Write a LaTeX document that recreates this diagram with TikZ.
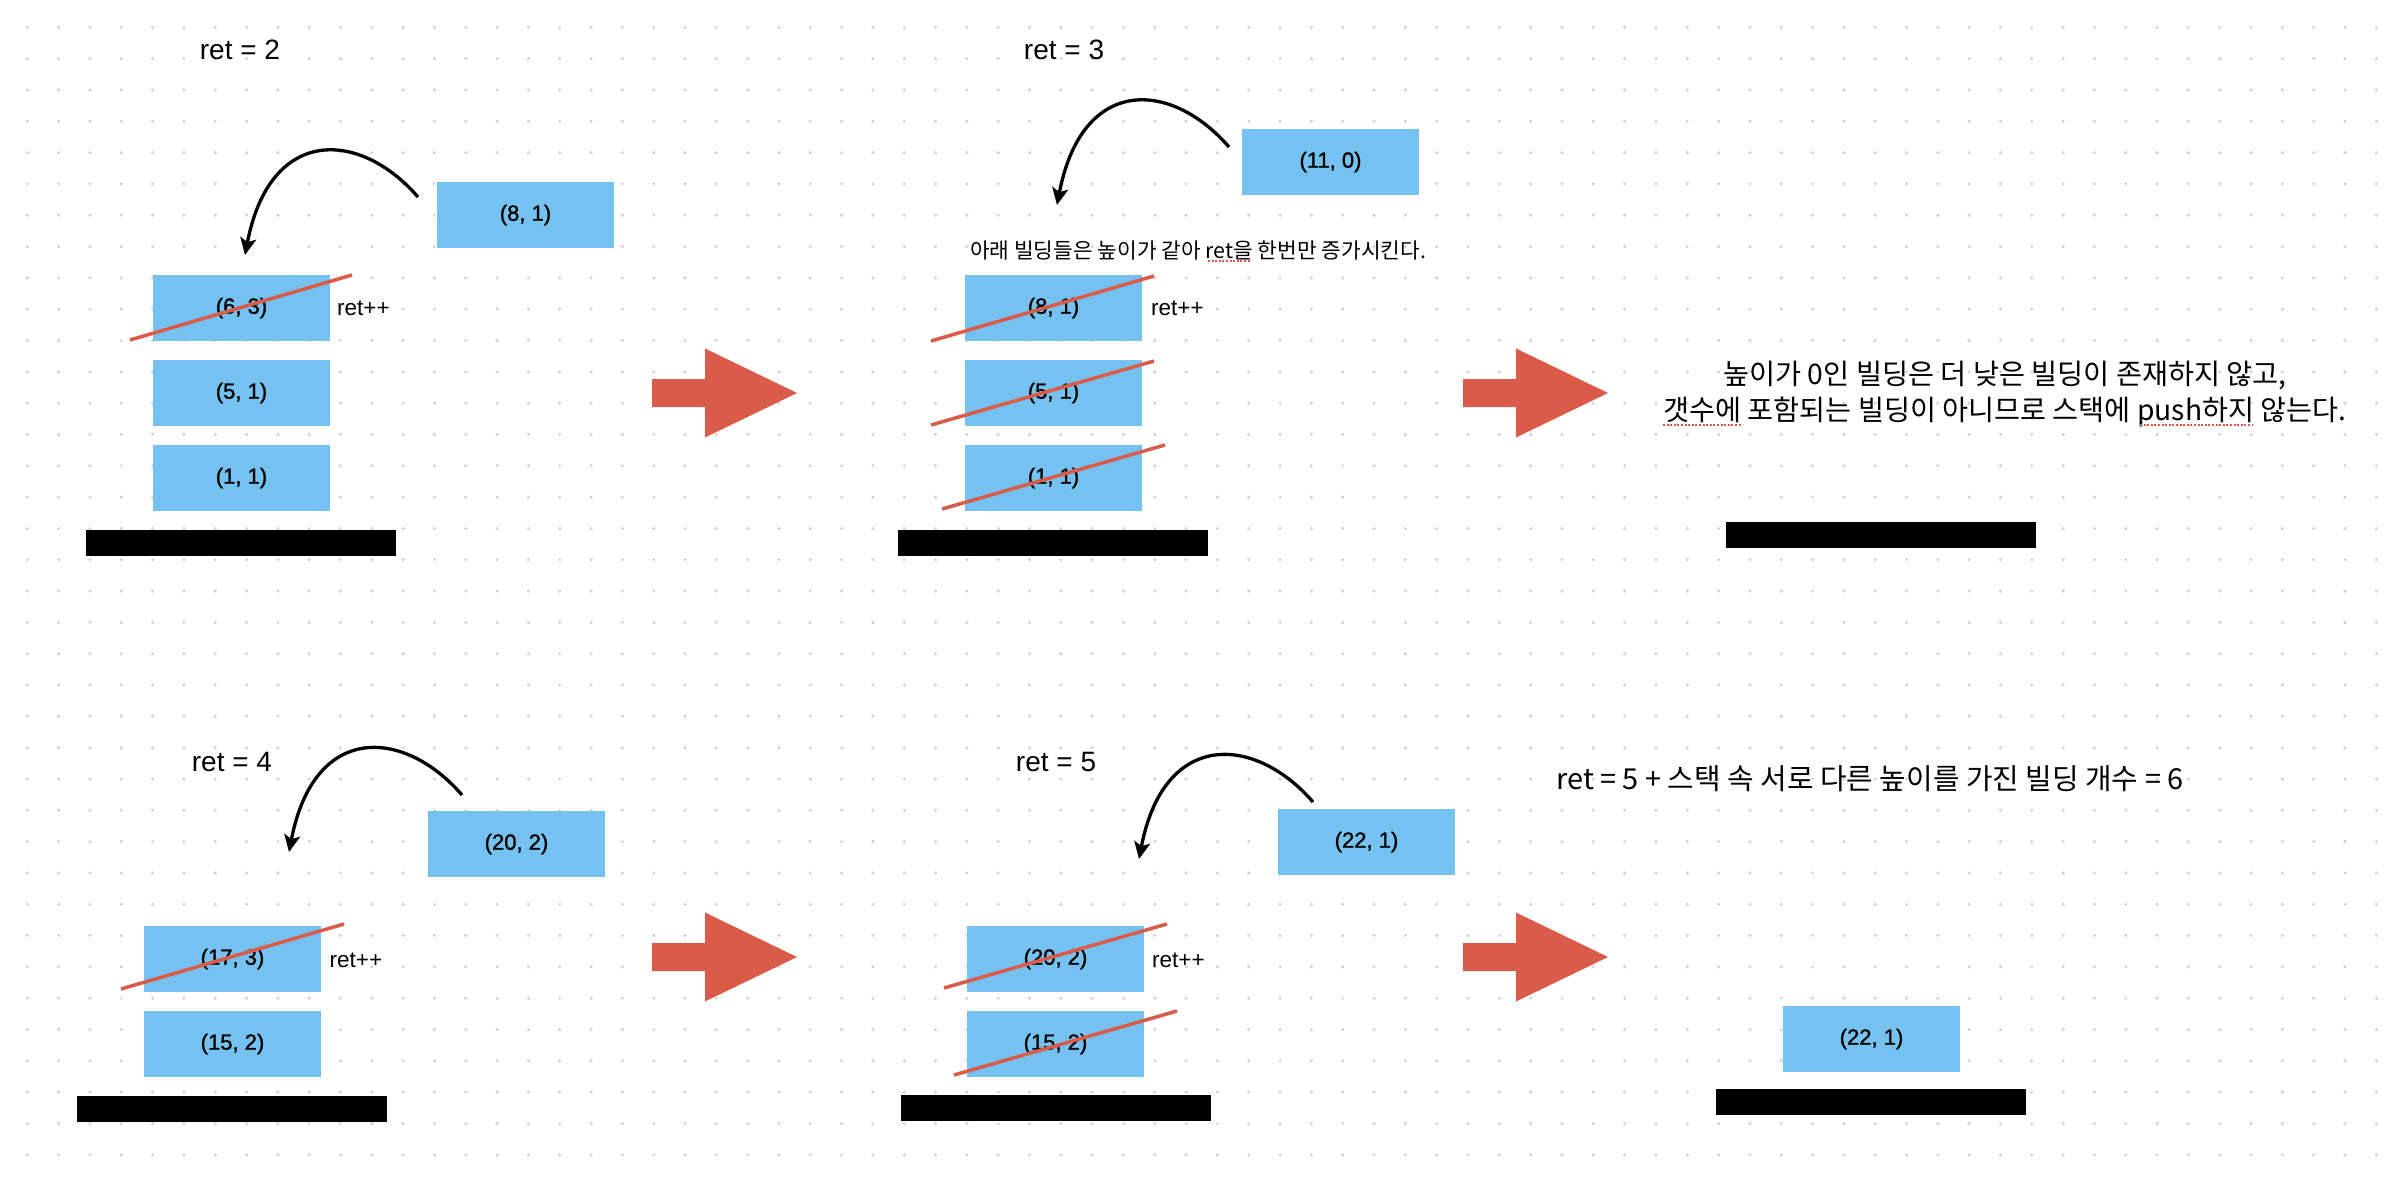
\documentclass[tikz,border=0pt]{standalone}
\usepackage{graphicx}
\usepackage{fontspec}
\setmainfont{Liberation Sans}
\newfontfamily\boxfont[FakeBold=1.2]{Liberation Sans}
\newfontfamily\kr{Noto Sans CJK KR}
\usetikzlibrary{arrows.meta,calc}
\definecolor{boxblue}{RGB}{117,194,240}
\definecolor{redarrow}{RGB}{217,91,73}
\definecolor{dotgray}{RGB}{210,210,210}
\tikzset{
  stackbox/.style={fill=boxblue, minimum width=177pt, minimum height=66pt, inner sep=0pt, font=\boxfont\fontsize{22}{26}\selectfont},
  basebar/.style={fill=black, minimum width=310pt, minimum height=26pt, inner sep=0pt},
  strike/.style={draw=redarrow, line width=3.5pt},
  retlabel/.style={font=\fontsize{28}{32}\selectfont, inner sep=0pt},
  inclabel/.style={font=\fontsize{22.5}{26}\selectfont, inner sep=0pt, anchor=west},
  popcurve/.style={-{Stealth[length=17pt,width=16pt,inset=4pt]}, line width=3.3pt},
  note/.style={inner sep=0pt},
  spell/.style={draw=redarrow, line width=1.6pt, dash pattern=on 2pt off 1.6pt},
  bigarrow/.pic={\fill[redarrow] (-145,-14) -- (-92,-14) -- (-92,-44.5) -- (0,0) -- (-92,44.5) -- (-92,14) -- (-145,14) -- cycle;}
}
\begin{document}
\begin{tikzpicture}[x=1pt,y=-1pt]
\useasboundingbox (0,0) rectangle (2396,1178);
\fill[white] (0,0) rectangle (2396,1178);
\foreach \i in {0,...,75}{\foreach \j in {0,...,36}{\fill[dotgray] (27.3+31.32*\i,27.3+31.32*\j) circle (1.7pt);}}

% ---------- panel 1
\node[retlabel] (ret1) at (240,50) {ret = 2};
\node[stackbox] (p1new) at (525.5,215) {(8, 1)};
\node[stackbox] (p1s3) at (241.5,308) {(6, 3)};
\node[stackbox] (p1s2) at (241.5,393) {(5, 1)};
\node[stackbox] (p1s1) at (241.5,478) {(1, 1)};
\node[basebar] (p1bar) at (241,543) {};
\draw[strike] (130,340) -- (352,275);
\node[inclabel] (p1inc) at (337,308) {ret++};
\coordinate (p1from) at (418,197);
\coordinate (p1to) at (245,255);
\draw[popcurve] (p1from) .. controls +(-58,-67) and +(25,-130) .. (p1to);

% ---------- panel 2
\node[retlabel] (ret2) at (1064,50) {ret = 3};
\node[stackbox] (p2new) at (1330.5,162) {(11, 0)};
\node[note] (p2note) at (1198,250) {\resizebox{456pt}{!}{\kr 아래 빌딩들은 높이가 같아 ret을 한번만 증가시킨다.}};
\draw[spell] (1208,261) -- (1251,261);
\node[stackbox] (p2s3) at (1053.5,308) {(8, 1)};
\node[stackbox] (p2s2) at (1053.5,393) {(5, 1)};
\node[stackbox] (p2s1) at (1053.5,478) {(1, 1)};
\node[basebar] (p2bar) at (1053,543) {};
\draw[strike] (931,341) -- (1154,276);
\draw[strike] (931,425) -- (1154,361);
\draw[strike] (942,509) -- (1165,445);
\node[inclabel] (p2inc) at (1151,308) {ret++};
\coordinate (p2from) at (1229,147);
\coordinate (p2to) at (1057,205);
\draw[popcurve] (p2from) .. controls +(-58,-67) and +(25,-130) .. (p2to);

\pic at (797,393) {bigarrow};
\pic at (1608,393) {bigarrow};

% ---------- panel 3
\node[note] (p3l1) at (2005,375) {\resizebox{563pt}{!}{\kr 높이가 0인 빌딩은 더 낮은 빌딩이 존재하지 않고,}};
\node[note] (p3l2) at (2005,412) {\resizebox{683pt}{!}{\kr 갯수에 포함되는 빌딩이 아니므로 스택에 push하지 않는다.}};
\draw[spell] (1663,425) -- (1742,425);
\draw[spell] (2140,425) -- (2252,425);
\node[basebar] (p3bar) at (1880.5,535) {};

% ---------- panel 4
\node[retlabel] (ret4) at (232,762) {ret = 4};
\node[stackbox] (p4new) at (516.5,844) {(20, 2)};
\node[stackbox] (p4s2) at (232.5,959) {(17, 3)};
\node[stackbox] (p4s1) at (232.5,1044) {(15, 2)};
\node[basebar] (p4bar) at (232,1109) {};
\draw[strike] (121,989) -- (344,924);
\node[inclabel] (p4inc) at (329.5,960) {ret++};
\coordinate (p4from) at (462,795);
\coordinate (p4to) at (289,852);
\draw[popcurve] (p4from) .. controls +(-58,-67) and +(25,-130) .. (p4to);

% ---------- panel 5
\node[retlabel] (ret5) at (1056,762) {ret = 5};
\node[stackbox] (p5new) at (1366.5,842) {(22, 1)};
\node[stackbox] (p5s2) at (1055.5,959) {(20, 2)};
\node[stackbox] (p5s1) at (1055.5,1044) {(15, 2)};
\node[basebar] (p5bar) at (1056,1108) {};
\draw[strike] (944,988) -- (1167,924);
\draw[strike] (954,1075) -- (1177,1011);
\node[inclabel] (p5inc) at (1152,960) {ret++};
\coordinate (p5from) at (1313,802);
\coordinate (p5to) at (1139,859);
\draw[popcurve] (p5from) .. controls +(-58,-67) and +(25,-130) .. (p5to);

\pic at (797,957) {bigarrow};
\pic at (1608,957) {bigarrow};

% ---------- panel 6
\node[note] (p6note) at (1870,779) {\resizebox{627pt}{!}{\kr ret = 5 + 스택 속 서로 다른 높이를 가진 빌딩 개수 = 6}};
\node[stackbox] (p6s1) at (1871.5,1039) {(22, 1)};
\node[basebar] (p6bar) at (1871,1101.5) {};
\end{tikzpicture}
\end{document}
